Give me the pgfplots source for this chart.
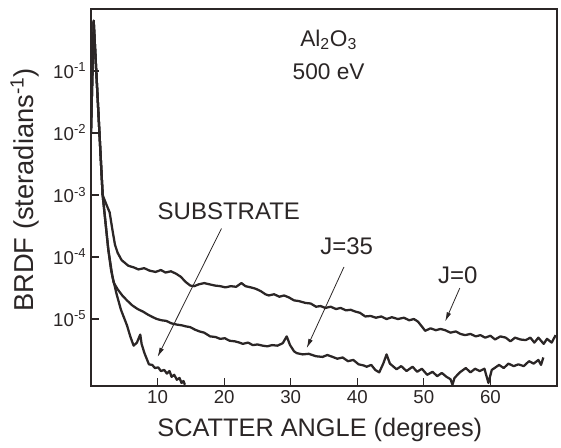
\documentclass[border=0pt]{standalone}
\usepackage{fontspec}
\setmainfont{Liberation Sans}
\usepackage{pgfplots}
\pgfplotsset{compat=1.18}
\usetikzlibrary{arrows.meta}
\definecolor{ink}{HTML}{2B2626}

\begin{document}
\begin{tikzpicture}
\begin{axis}[
  scale only axis,
  width=349.5pt, height=282.75pt,
  xmin=0, xmax=70,
  ymode=log, ymin=8.32e-7, ymax=1,
  axis line style={ink, line width=1.1pt},
  every tick/.style={ink, line width=0.9pt},
  tick align=inside,
  major tick length=6pt,
  xtick={10,20,30,40,50,60},
  xticklabels={10,20,30,40,50,60},
  ytick={1e-5,1e-4,1e-3,1e-2,1e-1},
  yticklabels={10\textsuperscript{-5},10\textsuperscript{-4},10\textsuperscript{-3},10\textsuperscript{-2},10\textsuperscript{-1}},
  yminorticks=false,
  xtick pos=bottom, ytick pos=left,
  tick label style={font=\fontsize{14}{16}\selectfont, text=ink},
  xlabel={SCATTER ANGLE (degrees)},
  ylabel={BRDF (steradians\textsuperscript{-1})},
  xlabel style={at={(axis description cs:0.491,-0.117)}, anchor=center, font=\fontsize{19}{22}\selectfont, text=ink},
  ylabel style={at={(axis description cs:-0.1416,0.52)}, anchor=center, font=\fontsize{20.5}{22}\selectfont, text=ink},
  clip=true,
]
% J=0
\addplot[ink, line width=1.7pt, line join=round] coordinates {
(0.0,1e-2) (0.4,6.46e-1) (1.75,1e-3) (2.3,7.08e-4) (2.8,5.25e-4) (3.2,2.82e-4) (3.6,1.58e-4) (4.0,1.17e-4)
(4.6,8.91e-5) (5.6,7.24e-5) (6.5,6.76e-5) (7.1,6.31e-5) (8.0,6.61e-5) (8.8,6.03e-5) (9.7,5.75e-5)
(10.5,6.17e-5) (11.2,5.62e-5) (12.0,5.89e-5) (12.8,5.37e-5) (13.5,4.79e-5) (14.2,3.98e-5) (14.9,3.47e-5)
(15.5,3.39e-5) (16.2,3.63e-5) (17.0,3.80e-5) (17.8,3.63e-5) (18.6,3.47e-5) (19.4,3.39e-5)
(20.2,3.24e-5) (21.0,3.39e-5) (21.8,3.31e-5) (22.6,3.80e-5) (23.2,3.39e-5) (24.0,3.24e-5) (24.7,3.09e-5)
(25.5,2.82e-5) (26.2,2.51e-5) (26.7,2.40e-5) (27.5,2.51e-5) (28.3,2.29e-5) (29.0,2.40e-5) (29.7,2.24e-5)
(30.5,2.00e-5) (31.2,1.95e-5) (32.2,1.82e-5) (33.0,1.78e-5) (33.8,1.58e-5) (34.5,1.62e-5) (35.2,1.51e-5)
(36.0,1.58e-5) (36.8,1.45e-5) (37.5,1.51e-5) (38.3,1.38e-5) (39.0,1.41e-5) (39.7,1.32e-5) (40.4,1.26e-5)
(41.2,1.10e-5) (42.0,1.12e-5) (42.8,1.05e-5) (43.6,1.10e-5) (44.4,1.00e-5) (45.2,1.07e-5) (46.1,1.00e-5)
(47.0,1.05e-5) (47.8,9.55e-6) (48.5,1.00e-5) (49.1,9.12e-6) (49.7,7.59e-6) (50.2,6.46e-6) (51.0,7.08e-6)
(51.8,6.61e-6) (52.5,6.92e-6) (53.2,6.61e-6) (54.0,6.03e-6) (54.8,6.31e-6) (55.5,5.75e-6) (56.2,5.50e-6)
(57.0,5.75e-6) (57.8,5.25e-6) (58.5,5.50e-6) (59.2,5.01e-6) (60.0,5.37e-6) (60.7,4.68e-6) (61.5,5.25e-6)
(62.3,5.01e-6) (63.0,4.37e-6) (63.7,5.01e-6) (64.5,4.68e-6) (65.3,4.57e-6) (66.0,5.01e-6) (66.6,4.17e-6)
(67.2,5.01e-6) (68.0,3.98e-6) (68.5,4.79e-6) (69.2,4.17e-6) (69.8,5.50e-6)
};
% J=35
\addplot[ink, line width=1.7pt, line join=round] coordinates {
(0.0,1e-2) (0.4,6.46e-1) (1.75,1e-3) (2.6,1.32e-4) (3.0,6.31e-5) (3.4,3.89e-5) (4.0,3.02e-5) (4.7,2.40e-5)
(5.4,2.00e-5) (6.2,1.66e-5) (7.0,1.45e-5) (7.8,1.32e-5) (8.6,1.17e-5) (9.3,1.07e-5) (9.9,1.00e-5)
(10.6,9.55e-6) (11.3,9.33e-6) (12.1,8.51e-6) (12.9,8.13e-6) (13.6,7.94e-6) (14.3,7.59e-6) (14.9,7.41e-6)
(15.6,6.76e-6) (16.3,6.31e-6) (17.0,6.03e-6) (17.9,5.25e-6) (18.7,5.13e-6) (19.4,4.79e-6) (20.1,4.90e-6)
(20.8,4.47e-6) (21.6,4.37e-6) (22.3,4.17e-6) (22.8,3.98e-6) (23.6,4.17e-6) (24.3,3.80e-6) (25.0,3.89e-6)
(25.8,3.72e-6) (26.5,3.63e-6) (27.2,3.80e-6) (28.0,3.72e-6) (28.8,4.07e-6) (29.4,5.25e-6) (29.9,3.80e-6)
(30.5,3.02e-6) (30.9,2.82e-6) (31.8,2.69e-6) (32.7,2.75e-6) (33.8,2.51e-6) (34.8,2.45e-6) (35.5,2.63e-6)
(36.3,2.45e-6) (37.0,2.29e-6) (37.8,2.40e-6) (38.6,2.09e-6) (39.4,2.19e-6) (40.2,1.86e-6) (41.0,1.78e-6)
(41.4,1.70e-6) (42.1,1.82e-6) (42.7,1.51e-6) (43.3,1.38e-6) (43.9,1.91e-6) (44.4,2.69e-6) (44.9,1.91e-6)
(45.9,1.55e-6) (46.6,1.74e-6) (47.4,1.45e-6) (48.3,1.70e-6) (49.0,1.41e-6) (49.7,1.58e-6) (50.5,1.26e-6)
(51.3,1.41e-6) (52.0,1.20e-6) (52.7,1.35e-6) (53.4,1.17e-6) (54.0,1.07e-6) (54.3,8.71e-7) (54.6,1.12e-6)
(55.4,1.38e-6) (56.3,1.62e-6) (57.0,1.38e-6) (57.7,1.58e-6) (58.4,1.45e-6) (59.1,1.58e-6) (59.7,9.33e-7)
(60.2,1.51e-6) (61.3,1.82e-6) (62.0,1.62e-6) (62.7,1.91e-6) (63.5,1.74e-6) (64.2,1.86e-6) (65.0,1.74e-6)
(65.8,2.09e-6) (66.5,1.91e-6) (67.2,2.19e-6) (67.6,1.82e-6) (67.95,2.40e-6)
};
% SUBSTRATE
\addplot[ink, line width=1.7pt, line join=round] coordinates {
(0.0,1e-2) (0.4,6.46e-1) (1.75,1e-3) (2.6,1.32e-4) (3.2,5.01e-5) (3.8,2.63e-5) (4.5,1.41e-5) (5.4,7.94e-6)
(5.9,5.25e-6) (6.4,3.72e-6) (6.9,4.17e-6) (7.2,5.01e-6) (7.4,5.62e-6) (7.6,3.98e-6) (8.0,2.88e-6)
(8.4,2.24e-6) (8.7,1.86e-6) (9.2,1.82e-6) (9.6,1.62e-6) (10.1,1.66e-6) (10.5,1.45e-6) (11.0,1.51e-6)
(11.4,1.32e-6) (11.8,1.45e-6) (12.1,1.17e-6) (12.5,1.26e-6) (12.9,1.05e-6) (13.3,1.12e-6) (13.6,9.33e-7)
(13.9,1.00e-6) (14.1,8.71e-7)
};
\node[font=\fontsize{18}{20}\selectfont, text=ink] at (axis cs:20.7,5.5e-4) {SUBSTRATE};
\node[font=\fontsize{18}{20}\selectfont, text=ink] at (axis cs:38.4,1.48e-4) {J=35};
\node[font=\fontsize{18}{20}\selectfont, text=ink] at (axis cs:55.1,5.13e-5) {J=0};
\node[font=\fontsize{17}{20}\selectfont, text=ink] at (axis cs:35.7,3.16e-1) {Al\textsubscript{2}O\textsubscript{3}};
\node[font=\fontsize{17}{20}\selectfont, text=ink] at (axis cs:35.7,9.8e-2) {500 eV};
\draw[ink, line width=0.6pt, -{Latex[length=7pt,width=3.5pt]}] (axis cs:19.6,2.88e-4) -- (axis cs:10.0,2.45e-6);
\draw[ink, line width=0.6pt, -{Latex[length=7pt,width=3.5pt]}] (axis cs:38.0,6.92e-5) -- (axis cs:32.4,3.39e-6);
\draw[ink, line width=0.6pt, -{Latex[length=7pt,width=3.5pt]}] (axis cs:55.4,3.16e-5) -- (axis cs:53.2,9.12e-6);
\coordinate (bl) at (rel axis cs:0,0);
\coordinate (tr) at (rel axis cs:1,1);
\end{axis}
\pgfresetboundingbox
\useasboundingbox ([shift={(-68.25pt,-46.5pt)}]bl) rectangle ([shift={(3pt,6.75pt)}]tr);
\end{tikzpicture}
\end{document}
